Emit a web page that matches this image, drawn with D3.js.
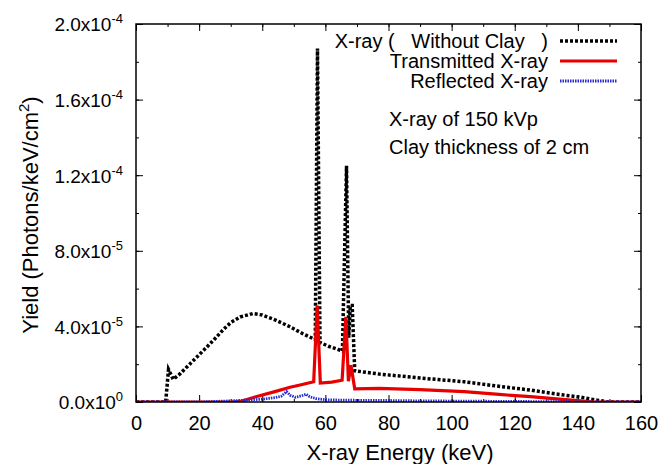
<!DOCTYPE html>
<html>
<head>
<meta charset="utf-8">
<script src="https://cdn.jsdelivr.net/npm/d3@7/dist/d3.min.js"></script>
<style>
  body { margin: 0; background: #fff; }
  svg { font-family: "Liberation Sans", Arial, sans-serif; }
  text { white-space: pre; }
</style>
</head>
<body>
<div id="chart"></div>
<script>
// x-ray energy (keV) and yield (photons/keV/cm^2)
var noClayE = [0, 9.4, 10.3, 11.8, 14, 17, 20, 22.4, 25, 27.5, 30, 33, 37, 40, 44, 48.8, 53, 56.8, 57.5, 58.3, 61, 65.4, 66.7, 67.4, 67.9, 68.5, 69.3, 77, 90, 104, 115, 125, 135, 141, 146, 149.5, 160];
var noClayY = [0, 0, 1.72e-5, 1.2e-5, 1.5e-5, 2.0e-5, 2.5e-5, 2.9e-5, 3.35e-5, 3.8e-5, 4.2e-5, 4.5e-5, 4.68e-5, 4.6e-5, 4.35e-5, 3.98e-5, 3.6e-5, 3.3e-5, 1.87e-4, 3.15e-5, 2.95e-5, 2.7e-5, 1.25e-4, 3.4e-5, 5.1e-5, 5.1e-5, 1.65e-5, 1.48e-5, 1.27e-5, 1.07e-5, 8.3e-6, 6.3e-6, 3.8e-6, 2.5e-6, 1.0e-6, 0, 0];

var transE = [0, 30, 33, 38, 44, 48.8, 52, 56.3, 57.4, 58.4, 62, 65.3, 66.5, 67.3, 68.1, 69.3, 77, 90, 104, 115, 125, 135, 141, 145, 160];
var transY = [0, 0, 3e-7, 2.8e-6, 5.5e-6, 7.8e-6, 9.0e-6, 1.07e-5, 5.1e-5, 1.0e-5, 1.05e-5, 1.15e-5, 4.5e-5, 1.1e-5, 1.95e-5, 7.0e-6, 7.2e-6, 6.6e-6, 5.5e-6, 4.0e-6, 2.8e-6, 1.4e-6, 6e-7, 0, 0];

var reflE = [0, 20, 25, 30, 35, 40, 44, 46, 47.7, 48.8, 50.5, 52.5, 53.9, 55, 57, 60, 65, 70, 80, 90, 100, 110, 120, 130, 140, 150, 160];
var reflY = [0, 0, 3e-7, 6e-7, 1.0e-6, 1.5e-6, 2.3e-6, 3.0e-6, 5.5e-6, 3.6e-6, 2.5e-6, 3.3e-6, 4.1e-6, 2.8e-6, 1.8e-6, 1.2e-6, 1.0e-6, 9e-7, 8e-7, 6e-7, 5e-7, 4e-7, 3e-7, 2e-7, 1e-7, 0, 0];

var xTicks = [0, 20, 40, 60, 80, 100, 120, 140, 160];
var yTicks = [0, 4e-5, 8e-5, 1.2e-4, 1.6e-4, 2.0e-4];

var legendNames = ["X-ray (   Without Clay   )", "Transmitted X-ray", "Reflected X-ray"];
var noteLines = ["X-ray of 150 kVp", "Clay thickness of 2 cm"];

var width = 663, height = 464;
// plot frame edges (window.top is read-only, so no bare "top")
var plotL = 136, plotR = 641, plotT = 24, plotB = 402;

var svg = d3.select("#chart").append("svg")
  .attr("width", width)
  .attr("height", height);

var x = d3.scaleLinear().domain([0, 160]).range([plotL, plotR]);
var y = d3.scaleLinear().domain([0, 2e-4]).range([plotB, plotT]);

var xMinor = d3.range(0, 161, 10);
var yMinor = d3.range(0, 2.01e-4, 2e-5);

// ticks point inward on all four sides (gnuplot style)
function tickGroup(axis, tx, ty) {
  var g = svg.append("g").attr("transform", "translate(" + tx + "," + ty + ")").call(axis);
  g.select(".domain").remove();
  g.selectAll("line").attr("stroke", "#000").attr("stroke-width", 1);
  return g;
}

tickGroup(d3.axisBottom(x).tickValues(xMinor).tickSize(-3).tickFormat(""), 0, plotB);
tickGroup(d3.axisTop(x).tickValues(xMinor).tickSize(-3).tickFormat(""), 0, plotT);
tickGroup(d3.axisLeft(y).tickValues(yMinor).tickSize(-3).tickFormat(""), plotL, 0);
tickGroup(d3.axisRight(y).tickValues(yMinor).tickSize(-3).tickFormat(""), plotR, 0);

var xAxis = tickGroup(d3.axisBottom(x).tickValues(xTicks).tickSize(-7).tickPadding(14), 0, plotB);
xAxis.selectAll("text")
  .attr("font-size", "20px")
  .attr("font-family", "Liberation Sans, Arial, sans-serif")
  .attr("fill", "#000");
tickGroup(d3.axisTop(x).tickValues(xTicks).tickSize(-7).tickFormat(""), 0, plotT);
tickGroup(d3.axisRight(y).tickValues(yTicks).tickSize(-7).tickFormat(""), plotR, 0);

var yAxis = tickGroup(d3.axisLeft(y).tickValues(yTicks).tickSize(-7).tickFormat(""), plotL, 0);
yAxis.selectAll(".tick text").remove();
yAxis.selectAll(".tick").append("text")
  .attr("x", -13)
  .attr("dy", "0.36em")
  .attr("text-anchor", "end")
  .attr("font-size", "19px")
  .attr("font-family", "Liberation Sans, Arial, sans-serif")
  .attr("fill", "#000")
  .each(function(d) {
    var parts = d.toExponential(1).split("e");
    var t = d3.select(this);
    t.append("tspan").text(parts[0] + "x10");
    t.append("tspan")
      .attr("dy", -8)
      .attr("font-size", "13px")
      .text(String(+parts[1]));
  });

// clip the curves to the frame
svg.append("clipPath").attr("id", "plotArea")
  .append("rect")
  .attr("x", plotL).attr("y", plotT)
  .attr("width", plotR - plotL).attr("height", plotB - plotT);

var line = d3.line()
  .x(function(d) { return x(d[0]); })
  .y(function(d) { return y(d[1]); });

var series = [
  { e: noClayE, v: noClayY, color: "#000", w: 3.5, dash: "3,2" },
  { e: transE, v: transY, color: "#e80000", w: 3.2, dash: null },
  { e: reflE, v: reflY, color: "#2a2ad0", w: 2.8, dash: "1.5,1" }
];

var plot = svg.append("g").attr("clip-path", "url(#plotArea)");
series.forEach(function(s) {
  plot.append("path")
    .datum(d3.zip(s.e, s.v))
    .attr("d", line)
    .attr("fill", "none")
    .attr("stroke", s.color)
    .attr("stroke-width", s.w)
    .attr("stroke-dasharray", s.dash)
    .attr("stroke-linejoin", "miter");
});

// frame
svg.append("rect")
  .attr("x", plotL).attr("y", plotT)
  .attr("width", plotR - plotL).attr("height", plotB - plotT)
  .attr("fill", "none")
  .attr("stroke", "#000")
  .attr("stroke-width", 1.5);

// legend
var legend = svg.append("g");
legendNames.forEach(function(name, i) {
  var ly = 41 + i * 20;
  legend.append("text")
    .attr("x", 548).attr("y", ly)
    .attr("dy", "0.35em")
    .attr("text-anchor", "end")
    .attr("font-size", "20px")
    .text(name);
  legend.append("line")
    .attr("x1", 560).attr("x2", 617)
    .attr("y1", ly).attr("y2", ly)
    .attr("stroke", series[i].color)
    .attr("stroke-width", series[i].w)
    .attr("stroke-dasharray", series[i].dash);
});

noteLines.forEach(function(t, i) {
  svg.append("text")
    .attr("x", 389).attr("y", 119 + i * 28)
    .attr("dy", "0.35em")
    .attr("font-size", "20px")
    .text(t);
});

// axis titles
svg.append("text")
  .attr("x", 400).attr("y", 452)
  .attr("dy", "0.35em")
  .attr("text-anchor", "middle")
  .attr("font-size", "22px")
  .text("X-ray Energy (keV)");

var yTitle = svg.append("text")
  .attr("transform", "translate(30,215) rotate(-90)")
  .attr("dy", "0.35em")
  .attr("text-anchor", "middle")
  .attr("font-size", "22px");
yTitle.append("tspan").text("Yield (Photons/keV/cm");
yTitle.append("tspan").attr("dy", -9).attr("font-size", "15px").text("2");
yTitle.append("tspan").attr("dy", 9).text(")");
</script>
</body>
</html>
